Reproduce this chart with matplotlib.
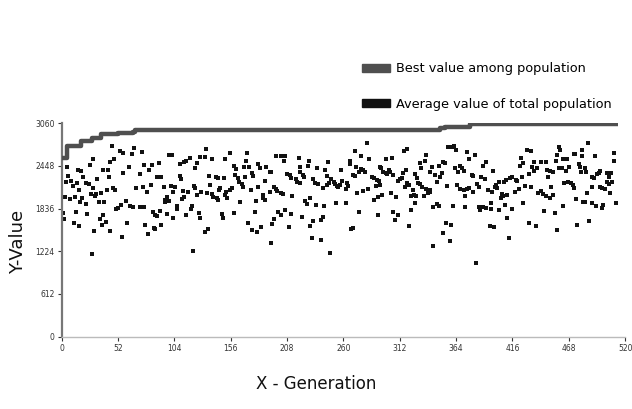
import matplotlib
matplotlib.use("Agg")
import matplotlib.pyplot as plt
from matplotlib.patches import Patch

# ---------------- data ----------------
best_gen = [0, 5, 18, 28, 36, 52, 66, 68, 349, 354, 377, 513]
best_val = [2555, 2731, 2802, 2841, 2898, 2922, 2935, 2960, 2984, 3000, 3041, 3041]

avg_gen = [
    46, 54, 57, 65, 67, 5, 29, 26, 45, 48, 5, 15, 18, 38, 43, 62, 57, 6, 20, 44, 33, 4, 9, 14, 22, 25, 69, 10, 16, 29,
    47, 49, 42, 36, 32, 27, 31, 3, 8, 12, 19, 17, 22, 34, 39, 59, 55, 50, 52, 63, 66, 72, 1, 13, 23, 38, 2, 35, 41, 11,
    16, 37, 60, 30, 45, 56, 28,
    133, 128, 132, 139, 99, 102, 118, 115, 113, 109, 125, 123, 74, 90, 76, 83, 81, 72, 88, 92, 109, 110, 136, 142, 144,
    75, 82, 94, 101, 105, 122, 123, 137, 146, 145, 79, 103, 112, 117, 129, 125, 134, 139, 140, 144, 143, 97, 95, 99, 113,
    111, 95, 76, 106, 106, 120, 119, 84, 91, 86, 88, 97, 103, 115, 127, 128, 77, 85, 86, 92, 80, 132, 135, 121,
    155, 171, 151, 170, 198, 202, 206, 205, 219, 159, 161, 168, 173, 181, 183, 189, 192, 193, 220, 160, 163, 169, 176,
    177, 150, 208, 211, 212, 216, 217, 220, 188, 164, 166, 167, 181, 175, 196, 198, 199, 202, 204, 192, 186, 186, 188,
    213, 152, 155, 157, 151, 153, 165, 179, 159, 148, 149, 178, 200, 202, 206, 212, 196, 194, 172, 184, 210, 176, 180, 193,
    282, 271, 276, 284, 266, 266, 228, 227, 246, 236, 243, 258, 272, 276, 278, 280, 274, 220, 223, 224, 245, 269, 271,
    286, 288, 291, 293, 220, 232, 234, 237, 241, 245, 247, 249, 251, 252, 254, 255, 257, 259, 263, 264, 262, 290, 273,
    278, 283, 292, 288, 225, 226, 229, 235, 242, 253, 262, 222, 232, 239, 241, 229, 274, 269, 267, 292, 231, 239, 248,
    316, 319, 357, 360, 362, 364, 299, 305, 336, 335, 331, 332, 342, 348, 352, 354, 363, 294, 295, 297, 299, 300, 302,
    303, 306, 315, 318, 340, 345, 351, 349, 366, 310, 312, 314, 319, 321, 317, 326, 328, 329, 331, 333, 336, 340, 340,
    346, 356, 365, 294, 296, 304, 309, 324, 325, 322, 327, 334, 338, 326, 343, 346, 348, 361, 322, 306, 310, 308, 355,
    359, 321, 352, 358, 343,
    374, 381, 376, 392, 389, 398, 368, 369, 371, 429, 433, 424, 426, 423, 436, 434, 379, 380, 387, 391, 383, 385, 393,
    397, 400, 401, 404, 408, 410, 414, 416, 419, 420, 425, 431, 436, 439, 368, 371, 374, 376, 380, 372, 402, 406, 407,
    405, 411, 418, 422, 428, 433, 440, 372, 385, 386, 389, 392, 396, 396, 404, 409, 416, 426, 411, 431, 438, 395, 399,
    413, 382,
    486, 459, 460, 480, 473, 474, 480, 510, 492, 457, 456, 463, 466, 510, 447, 442, 468, 459, 462, 448, 451, 453, 477,
    478, 479, 483, 484, 496, 497, 503, 507, 505, 449, 465, 489, 491, 494, 503, 508, 505, 464, 467, 470, 472, 473, 497,
    499, 501, 489, 485, 506, 442, 444, 447, 452, 453, 451, 463, 475, 481, 483, 489, 493, 499, 500, 512, 445, 455, 476,
    487, 457,
]
avg_val = [
    2731, 2664, 2635, 2616, 2697, 2635, 2540, 2459, 2506, 2540, 2425, 2387, 2373, 2387, 2387, 2425, 2339, 2306, 2292,
    2282, 2254, 2211, 2235, 2196, 2206, 2187, 2125, 2158, 2101, 2134, 2125, 2101, 2101, 2063, 2039, 2039, 2015, 2006,
    1967, 2006, 1991, 1934, 1896, 1924, 1924, 1944, 1886, 1829, 1839, 1872, 1862, 1862, 1767, 1791, 1753, 1743, 1681,
    1681, 1638, 1624, 1591, 1600, 1624, 1519, 1519, 1433, 1185,
    2688, 2578, 2578, 2540, 2602, 2602, 2564, 2521, 2497, 2468, 2483, 2411, 2650, 2483, 2459, 2459, 2387, 2325, 2292,
    2292, 2306, 2254, 2306, 2292, 2268, 2139, 2173, 2139, 2163, 2139, 2163, 2134, 2173, 2125, 2101, 2068, 2077, 2087,
    2077, 2077, 2029, 2053, 2039, 2006, 1958, 1982, 2006, 1958, 1944, 2006, 1972, 1934, 1853, 1877, 1829, 1872, 1829,
    1791, 1800, 1743, 1734, 1758, 1705, 1743, 1767, 1695, 1600, 1562, 1538, 1600, 1467, 1505, 1538, 1233,
    2635, 2635, 2540, 2521, 2592, 2592, 2592, 2521, 2554, 2444, 2397, 2425, 2425, 2468, 2411, 2425, 2363, 2363, 2435,
    2316, 2268, 2292, 2349, 2306, 2277, 2330, 2316, 2268, 2254, 2220, 2206, 2235, 2220, 2187, 2149, 2149, 2101, 2139,
    2115, 2087, 2053, 2039, 2068, 2029, 1982, 1958, 2020, 2077, 2101, 2125, 2029, 1982, 1934, 1944, 1777, 1758, 1705,
    1791, 1781, 1743, 1815, 1753, 1681, 1610, 1624, 1576, 1567, 1529, 1505, 1338,
    2769, 2659, 2592, 2540, 2521, 2468, 2516, 2444, 2497, 2420, 2387, 2387, 2425, 2401, 2387, 2363, 2363, 2363, 2316,
    2292, 2306, 2316, 2301, 2292, 2268, 2244, 2230, 2196, 2258, 2196, 2182, 2125, 2173, 2196, 2254, 2220, 2187, 2163,
    2149, 2173, 2235, 2206, 2158, 2115, 2163, 2053, 2087, 2115, 2006, 1958, 1944, 1901, 1982, 1886, 1872, 1910, 1910,
    1719, 1657, 1672, 1719, 1586, 1791, 1562, 1538, 1743, 1409, 1385, 1204,
    2659, 2688, 2711, 2721, 2735, 2673, 2540, 2554, 2602, 2521, 2483, 2420, 2435, 2444, 2506, 2483, 2420, 2435, 2411,
    2363, 2349, 2325, 2387, 2363, 2316, 2349, 2387, 2363, 2316, 2339, 2292, 2363, 2234, 2254, 2268, 2196, 2173, 2149,
    2330, 2268, 2206, 2182, 2149, 2110, 2101, 2077, 2220, 2158, 2173, 2173, 2029, 2053, 2006, 2101, 2029, 2020, 2020,
    2020, 2053, 1920, 1853, 1901, 1872, 1872, 1815, 1791, 1743, 1672, 1624, 1600, 1591, 1481, 1371, 1300,
    2640, 2602, 2540, 2506, 2444, 2373, 2444, 2411, 2373, 2673, 2659, 2564, 2483, 2444, 2506, 2435, 2316, 2306, 2292,
    2258, 2182, 2149, 2101, 2077, 2149, 2173, 2220, 2220, 2244, 2268, 2292, 2244, 2230, 2292, 2325, 2373, 2420, 2110,
    2101, 2115, 2125, 2068, 2020, 2125, 2039, 2015, 1982, 2029, 2068, 2115, 2163, 2149, 2053, 1853, 1862, 1815, 1853,
    1848, 1910, 1829, 1815, 1886, 1829, 1910, 1695, 1624, 1591, 1591, 1567, 1409, 1052,
    2769, 2721, 2673, 2673, 2611, 2611, 2592, 2635, 2592, 2602, 2521, 2540, 2540, 2521, 2497, 2497, 2435, 2411, 2411,
    2387, 2378, 2363, 2468, 2435, 2363, 2411, 2354, 2349, 2373, 2349, 2339, 2292, 2292, 2373, 2292, 2268, 2325, 2220,
    2220, 2182, 2196, 2211, 2196, 2173, 2134, 2149, 2125, 2115, 2139, 2053, 2063, 2087, 2044, 2015, 2139, 2029, 1991,
    1872, 1967, 1924, 1924, 1910, 1872, 1839, 1886, 1910, 1800, 1777, 1600, 1657, 1529,
]

x_ticks = [0, 52, 104, 156, 208, 260, 312, 364, 416, 468, 520]
y_ticks = [0, 612, 1224, 1836, 2448, 3060]
legend_labels = ["Best value among population", "Average value of total population"]
x_label = "X - Generation"
y_label = "Y-Value"

# ---------------- figure ----------------
plt.rcParams["font.family"] = ["DejaVu Sans"]

fig = plt.figure(figsize=(6.32, 4.09), dpi=100)
ax = fig.add_axes([0.0976, 0.1768, 0.8915, 0.5222])

best_color = "#4f4f4f"
avg_color = "#111111"

ax.plot(best_gen, best_val, drawstyle="steps-post", color=best_color, lw=3.2,
        solid_capstyle="butt", zorder=3)
ax.scatter(avg_gen, avg_val, marker="s", s=7, color=avg_color, linewidths=0, zorder=2)

ax.set_xlim(0, 520)
ax.set_ylim(0, 3060)
ax.set_xticks(x_ticks)
ax.set_yticks(y_ticks)
ax.tick_params(axis="both", labelsize=5.5, colors="#333333", length=3, width=0.8, pad=2)

for s in ["top", "right"]:
    ax.spines[s].set_visible(False)
ax.spines["left"].set_color("#777777")
ax.spines["left"].set_linewidth(1.6)
ax.spines["bottom"].set_color("#bbbbbb")
ax.spines["bottom"].set_linewidth(1.0)

ax.set_xlabel(x_label, fontsize=12, color="#111111")
ax.set_ylabel(y_label, fontsize=13, color="#111111")
ax.xaxis.set_label_coords(0.451, -0.18)
ax.yaxis.set_label_coords(-0.062, 0.443)

handles = [Patch(facecolor=best_color, edgecolor=best_color),
           Patch(facecolor=avg_color, edgecolor=avg_color)]
fig.legend(handles, legend_labels, loc="upper left", bbox_to_anchor=(0.572, 0.848),
           frameon=False, fontsize=9.3, handlelength=2.2, handleheight=0.6,
           handletextpad=0.5, labelspacing=1.75, borderpad=0, borderaxespad=0)

fig.savefig("out.png", dpi=100)
